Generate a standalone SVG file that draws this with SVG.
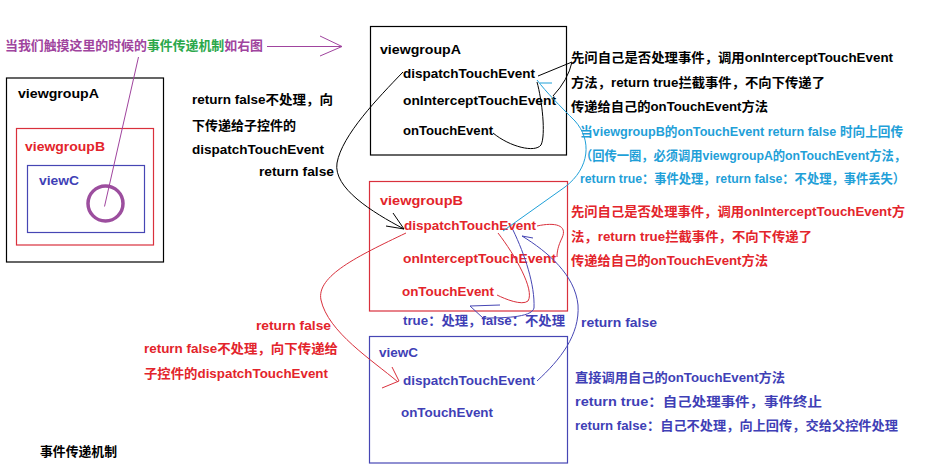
<svg xmlns="http://www.w3.org/2000/svg" width="925" height="469" viewBox="0 0 925 469">
<style>
text{font-family:"Liberation Sans","Noto Sans CJK SC",sans-serif;font-weight:bold;font-size:13px}
.k{fill:#000}.r{fill:#e3242b}.b{fill:#3f3fb6}.c{fill:#1fa0d8}.p{fill:#a0449e}.g{fill:#2aa84a}
.bx{fill:none;stroke-width:1.2}
.ln{fill:none;stroke-width:1}
</style>
<rect width="925" height="469" fill="#fff"/>
<g id="title">
<text x="5" y="50" textLength="258" lengthAdjust="spacingAndGlyphs"><tspan class="p">当我们触摸这里的时候的</tspan><tspan class="g">事件传递机制</tspan><tspan class="p">如右图</tspan></text>
<path class="ln" stroke="#a0449e" d="M267,46.5 L342,46.5 M320,36 L342,46.5 L320,56"/>
</g>
<g id="sketch">
<rect class="bx" x="6.5" y="78" width="157" height="184" stroke="#000"/>
<text class="k" x="18" y="97.5" textLength="81" lengthAdjust="spacingAndGlyphs">viewgroupA</text>
<rect class="bx" x="16.5" y="128.5" width="137" height="116.5" stroke="#d9303c"/>
<text class="r" x="25" y="150.5" textLength="80" lengthAdjust="spacingAndGlyphs">viewgroupB</text>
<rect class="bx" x="27.5" y="165.5" width="117" height="67" stroke="#4646b4"/>
<text class="b" x="39" y="185" textLength="40" lengthAdjust="spacingAndGlyphs">viewC</text>
<circle cx="105.5" cy="203.5" r="17.5" fill="none" stroke="#9c4e9e" stroke-width="3.5"/>
<path class="ln" stroke="#a0449e" d="M138.5,57 L104.5,206.5"/>
</g>
<g id="note-left-black">
<text class="k" x="192" y="104" textLength="141" lengthAdjust="spacingAndGlyphs">return false不处理，向</text>
<text class="k" x="192" y="129.5" textLength="104" lengthAdjust="spacingAndGlyphs">下传递给子控件的</text>
<text class="k" x="192" y="153.5" textLength="132" lengthAdjust="spacingAndGlyphs">dispatchTouchEvent</text>
<text class="k" x="259" y="176" textLength="75" lengthAdjust="spacingAndGlyphs">return false</text>
</g>
<g id="viewgroupA">
<rect class="bx" x="370.5" y="26.5" width="196" height="128.5" stroke="#000"/>
<text class="k" x="380" y="54" textLength="81" lengthAdjust="spacingAndGlyphs">viewgroupA</text>
<text class="k" x="403" y="78" textLength="132" lengthAdjust="spacingAndGlyphs">dispatchTouchEvent</text>
<text class="k" x="403" y="105" textLength="153" lengthAdjust="spacingAndGlyphs">onInterceptTouchEvent</text>
<text class="k" x="403" y="135" textLength="90" lengthAdjust="spacingAndGlyphs">onTouchEvent</text>
</g>
<g id="note-A">
<text class="k" x="571" y="62" textLength="322" lengthAdjust="spacingAndGlyphs">先问自己是否处理事件，调用onInterceptTouchEvent</text>
<text class="k" x="571" y="87" textLength="254" lengthAdjust="spacingAndGlyphs">方法，return true拦截事件，不向下传递了</text>
<text class="k" x="571" y="111" textLength="197" lengthAdjust="spacingAndGlyphs">传递给自己的onTouchEvent方法</text>
</g>
<g id="note-cyan">
<text class="c" x="580" y="136" textLength="323" lengthAdjust="spacingAndGlyphs">当viewgroupB的onTouchEvent return false 时向上回传</text>
<text class="c" x="580" y="160" textLength="326" lengthAdjust="spacingAndGlyphs">（回传一圈，必须调用viewgroupA的onTouchEvent方法，</text>
<text class="c" x="580" y="183" textLength="325" lengthAdjust="spacingAndGlyphs">return true：事件处理，return false：不处理，事件丢失）</text>
</g>
<g id="viewgroupB">
<rect class="bx" x="369.5" y="181.5" width="198" height="129.5" stroke="#d9303c"/>
<text class="r" x="380" y="205" textLength="83" lengthAdjust="spacingAndGlyphs">viewgroupB</text>
<text class="r" x="404" y="230" textLength="132" lengthAdjust="spacingAndGlyphs">dispatchTouchEvent</text>
<text class="r" x="403" y="263" textLength="153" lengthAdjust="spacingAndGlyphs">onInterceptTouchEvent</text>
<text class="r" x="402" y="296" textLength="92" lengthAdjust="spacingAndGlyphs">onTouchEvent</text>
</g>
<g id="note-B">
<text class="r" x="571" y="216" textLength="334" lengthAdjust="spacingAndGlyphs">先问自己是否处理事件，调用onInterceptTouchEvent方</text>
<text class="r" x="571" y="241" textLength="241" lengthAdjust="spacingAndGlyphs">法，return true拦截事件，不向下传递了</text>
<text class="r" x="571" y="265" textLength="197" lengthAdjust="spacingAndGlyphs">传递给自己的onTouchEvent方法</text>
</g>
<g id="note-B-result">
<text class="b" x="403" y="325" textLength="162" lengthAdjust="spacingAndGlyphs">true：处理，false：不处理</text>
<text class="b" x="581" y="327" textLength="76" lengthAdjust="spacingAndGlyphs">return false</text>
</g>
<g id="note-left-red">
<text class="r" x="256" y="330" textLength="75" lengthAdjust="spacingAndGlyphs">return false</text>
<text class="r" x="144" y="353" textLength="194" lengthAdjust="spacingAndGlyphs">return false不处理，向下传递给</text>
<text class="r" x="144" y="378" textLength="184" lengthAdjust="spacingAndGlyphs">子控件的dispatchTouchEvent</text>
</g>
<g id="viewC">
<rect class="bx" x="369.5" y="336.5" width="198" height="126.5" stroke="#4646b4"/>
<text class="b" x="379" y="357" textLength="39" lengthAdjust="spacingAndGlyphs">viewC</text>
<text class="b" x="403" y="385" textLength="132" lengthAdjust="spacingAndGlyphs">dispatchTouchEvent</text>
<text class="b" x="401" y="417" textLength="92" lengthAdjust="spacingAndGlyphs">onTouchEvent</text>
</g>
<g id="note-C">
<text class="b" x="575" y="382" textLength="210" lengthAdjust="spacingAndGlyphs">直接调用自己的onTouchEvent方法</text>
<text class="b" x="575" y="406" textLength="247" lengthAdjust="spacingAndGlyphs">return true：自己处理事件，事件终止</text>
<text class="b" x="575" y="430" textLength="323" lengthAdjust="spacingAndGlyphs">return false：自己不处理，向上回传，交给父控件处理</text>
</g>
<g id="caption">
<text class="k" x="40" y="456" textLength="77" lengthAdjust="spacingAndGlyphs">事件传递机制</text>
</g>
<g id="connectors">
<path class="ln" stroke="#000" d="M403,72 C378,98 342,135 337,163 C333,188 372,212 404,229 M393,213 L404,229 L386,226"/>
<path class="ln" stroke="#000" d="M538,76 L572,62 Q568,80 553,96"/>
<path class="ln" stroke="#000" d="M537,82 C542,100 546,135 541,145 C535,153 510,147 493,133"/>
<path class="ln" stroke="#1fa0d8" d="M503,231 L565,187 C590,168 592,140 575,121 C560,106 546,92 537,80 M540,83 L552,83"/>
<path class="ln" stroke="#d9303c" d="M537,226 C555,222 568,225 562,238 C558,246 557,252 557,257"/>
<path class="ln" stroke="#d9303c" d="M498,233 C515,255 535,290 528,301 C522,306 505,299 497,295"/>
<path class="ln" stroke="#d9303c" d="M406,233 C358,256 316,276 321,300 C328,332 372,360 398,382 M392,367 L399,381 L382,388"/>
<path class="ln" stroke="#4646b4" d="M513,230 C525,255 535,285 534,308 C532,318 500,318 483,318 L470,306 L500,305"/>
<path class="ln" stroke="#4646b4" d="M537,381 C560,360 580,335 578,305 C575,275 548,252 522,236 L533,238"/>
</g>
</svg>
